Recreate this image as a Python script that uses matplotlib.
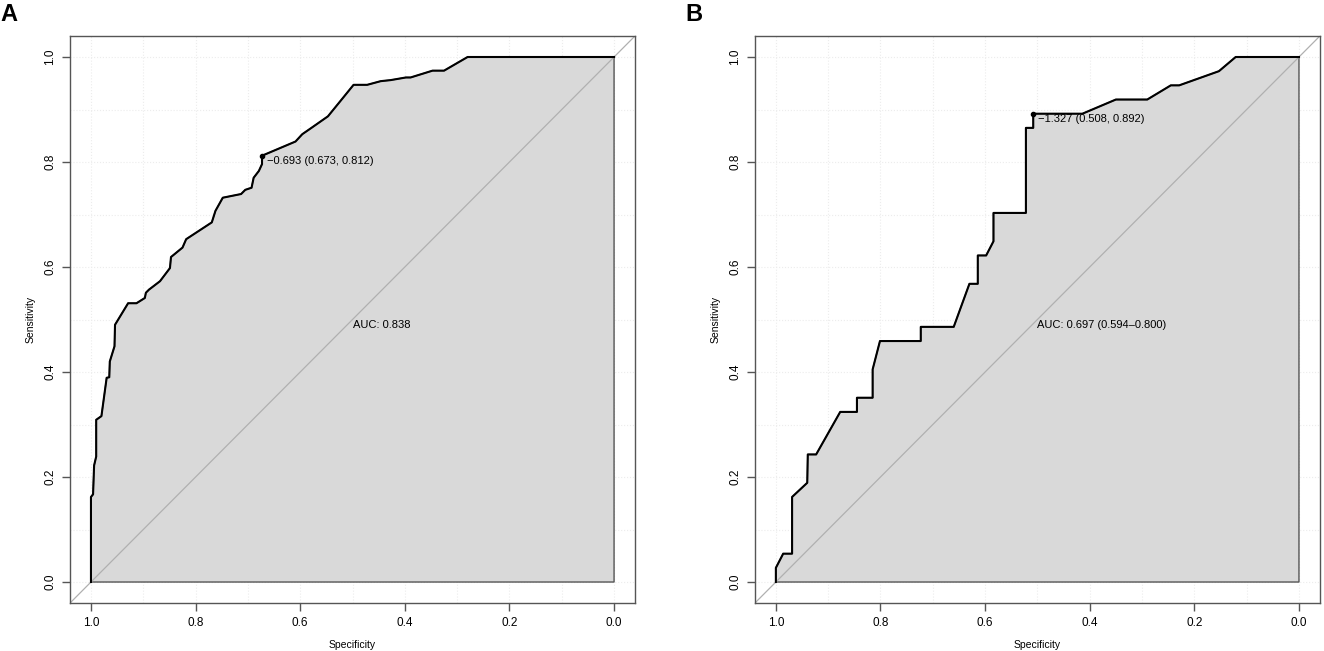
import matplotlib
matplotlib.use('Agg')
import matplotlib.pyplot as plt

plt.rcParams['font.family'] = ['Liberation Sans', 'DejaVu Sans']

# Panel A ROC curve
spec_a = [1.0, 1.0, 0.996, 0.994, 0.990, 0.990, 0.980, 0.970, 0.965, 0.964,
          0.955, 0.954, 0.929, 0.913, 0.897, 0.895, 0.889, 0.885, 0.868, 0.849,
          0.847, 0.825, 0.818, 0.769, 0.762, 0.748, 0.713, 0.705, 0.693, 0.689,
          0.679, 0.673, 0.673, 0.609, 0.596, 0.580, 0.547, 0.520, 0.498, 0.472,
          0.446, 0.427, 0.398, 0.389, 0.347, 0.325, 0.280, 0.0]
sens_a = [0.0, 0.162, 0.167, 0.222, 0.239, 0.309, 0.316, 0.389, 0.390, 0.420,
          0.449, 0.490, 0.531, 0.531, 0.541, 0.551, 0.557, 0.560, 0.573, 0.598,
          0.619, 0.637, 0.653, 0.685, 0.707, 0.732, 0.739, 0.747, 0.751, 0.770,
          0.783, 0.796, 0.812, 0.839, 0.853, 0.864, 0.887, 0.920, 0.947, 0.947,
          0.954, 0.956, 0.961, 0.961, 0.974, 0.974, 1.0, 1.0]
best_a = (0.673, 0.812)
thr_a = '\u22120.693 (0.673, 0.812)'
auc_a = 'AUC: 0.838'

# Panel B ROC curve
spec_b = [1.0, 1.0, 0.986, 0.969, 0.969, 0.940, 0.939, 0.923, 0.877, 0.845,
          0.845, 0.815, 0.815, 0.801, 0.723, 0.723, 0.660, 0.630, 0.614, 0.614,
          0.598, 0.584, 0.584, 0.522, 0.522, 0.508, 0.508, 0.414, 0.350, 0.290,
          0.245, 0.229, 0.153, 0.121, 0.0]
sens_b = [0.0, 0.027, 0.054, 0.054, 0.162, 0.189, 0.243, 0.243, 0.324, 0.324,
          0.351, 0.351, 0.405, 0.459, 0.459, 0.486, 0.486, 0.568, 0.568, 0.622,
          0.622, 0.649, 0.703, 0.703, 0.865, 0.865, 0.892, 0.892, 0.919, 0.919,
          0.946, 0.946, 0.973, 1.0, 1.0]
best_b = (0.508, 0.892)
thr_b = '\u22121.327 (0.508, 0.892)'
auc_b = 'AUC: 0.697 (0.594\u20130.800)'

ticks = [1.0, 0.8, 0.6, 0.4, 0.2, 0.0]
tick_labels = ['1.0', '0.8', '0.6', '0.4', '0.2', '0.0']
grid_at = [i / 10 for i in range(11)]

fig = plt.figure(figsize=(13.24, 6.51), dpi=100)
ax_a = fig.add_axes([0.0529, 0.0737, 0.4267, 0.871])
ax_b = fig.add_axes([0.5702, 0.0737, 0.4267, 0.871])


def roc_panel(ax, spec, sens, best, thr, auc):
    ax.set_xlim(1.04, -0.04)
    ax.set_ylim(-0.04, 1.04)
    for g in grid_at:
        ax.axvline(g, color='#ececec', lw=0.8, ls=':', zorder=0)
        ax.axhline(g, color='#ececec', lw=0.8, ls=':', zorder=0)
    # area under curve
    poly_x = list(spec) + [0.0, 1.0]
    poly_y = list(sens) + [0.0, 0.0]
    ax.fill(poly_x, poly_y, facecolor='#d9d9d9', edgecolor='#555555', lw=1.0, zorder=1)
    # chance line
    ax.plot([1.04, -0.04], [-0.04, 1.04], color='#b0b0b0', lw=0.9, zorder=2)
    ax.plot(spec, sens, color='black', lw=1.5, zorder=3)
    ax.plot([best[0]], [best[1]], 'o', color='black', ms=3, zorder=4)
    ax.text(best[0] - 0.01, best[1], thr, fontsize=8, ha='left', va='top', zorder=5)
    ax.text(0.5, 0.5, auc, fontsize=8, ha='left', va='top', zorder=5)

    ax.set_xticks(ticks)
    ax.set_xticklabels(tick_labels)
    ax.set_yticks(ticks)
    ax.set_yticklabels(tick_labels, rotation=90, va='center')
    ax.tick_params(axis='both', labelsize=8.5, length=6, width=1, color='#555555',
                   direction='out', pad=4)
    for s in ax.spines.values():
        s.set_color('#555555')
        s.set_linewidth(1.0)
    ax.set_xlabel('Specificity', fontsize=7.5, labelpad=8)
    ax.set_ylabel('Sensitivity', fontsize=7.5, labelpad=6)


roc_panel(ax_a, spec_a, sens_a, best_a, thr_a, auc_a)
roc_panel(ax_b, spec_b, sens_b, best_b, thr_b, auc_b)

fig.text(0.0, 0.995, 'A', fontsize=17, fontweight='bold', ha='left', va='top')
fig.text(0.5175, 0.995, 'B', fontsize=17, fontweight='bold', ha='left', va='top')

fig.savefig('out.png', dpi=100)
